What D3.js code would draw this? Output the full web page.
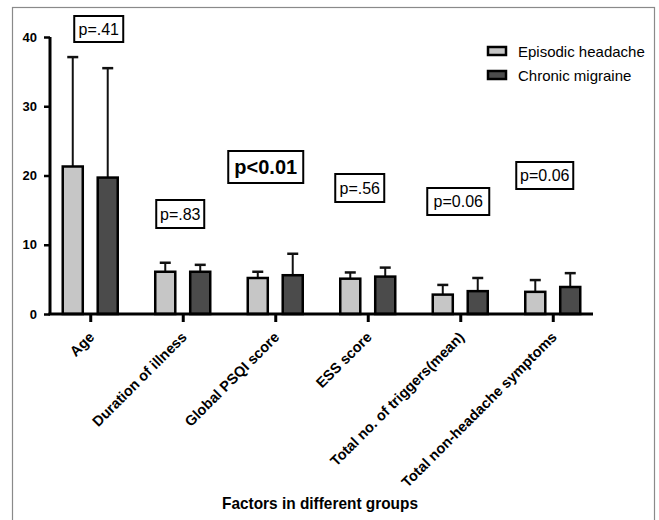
<!DOCTYPE html>
<html>
<head>
<meta charset="utf-8">
<script src="https://cdn.jsdelivr.net/npm/d3@7"></script>
<style>
  html, body { margin: 0; padding: 0; background: #fff; }
  svg { display: block; }
  text { font-family: "Liberation Sans", Arial, sans-serif; fill: #000; }
</style>
</head>
<body>
<div id="chart"></div>
<script>
// ---- data ----
const categories = ["Age", "Duration of illness", "Global PSQI score", "ESS score",
  "Total no. of triggers(mean)", "Total non-headache symptoms"];
const seriesNames = ["Episodic headache", "Chronic migraine"];
const episodicMean = [21.3, 6.1, 5.2, 5.1, 2.8, 3.2];
const episodicSD   = [15.8, 1.3, 0.9, 0.9, 1.4, 1.7];
const chronicMean  = [19.7, 6.1, 5.6, 5.4, 3.3, 3.9];
const chronicSD    = [15.8, 1.0, 3.1, 1.3, 1.9, 2.0];
const pLabels = ["p=.41", "p=.83", "p<0.01", "p=.56", "p=0.06", "p=0.06"];
const yTicks = [0, 10, 20, 30, 40];
const xTitle = "Factors in different groups";

// ---- layout ----
const W = 659, H = 520;
const colors = { "Episodic headache": "#c6c6c6", "Chronic migraine": "#4b4b4b" };

const svg = d3.select("#chart").append("svg").attr("width", W).attr("height", H);

// outer frame
svg.append("rect").attr("x", 12.5).attr("y", 7.5).attr("width", 642).attr("height", H)
  .attr("fill", "none").attr("stroke", "#8a8a8a").attr("stroke-width", 1.2);

const x = d3.scalePoint().domain(categories).range([50, 593]).padding(0.435);
const xs = d3.scaleBand().domain(seriesNames).range([-28.5, 28.5]).paddingInner(0.37);
const y = d3.scaleLinear().domain([0, 40]).range([314, 37]);

const rows = [];
categories.forEach((c, i) => {
  rows.push({ cat: c, s: seriesNames[0], m: episodicMean[i], sd: episodicSD[i] });
  rows.push({ cat: c, s: seriesNames[1], m: chronicMean[i], sd: chronicSD[i] });
});

// error bars (upper only)
const eb = svg.append("g");
rows.forEach(d => {
  const cx = x(d.cat) + xs(d.s) + xs.bandwidth() / 2;
  eb.append("line").attr("x1", cx).attr("x2", cx)
    .attr("y1", y(d.m)).attr("y2", y(d.m + d.sd))
    .attr("stroke", "#111").attr("stroke-width", 2);
  eb.append("line").attr("x1", cx - 5.5).attr("x2", cx + 5.5)
    .attr("y1", y(d.m + d.sd)).attr("y2", y(d.m + d.sd))
    .attr("stroke", "#111").attr("stroke-width", 2.5);
});

// bars
svg.append("g").selectAll("rect").data(rows).join("rect")
  .attr("x", d => x(d.cat) + xs(d.s) + 1)
  .attr("y", d => y(d.m))
  .attr("width", xs.bandwidth() - 2)
  .attr("height", d => y(0) - y(d.m))
  .attr("fill", d => colors[d.s])
  .attr("stroke", "#000").attr("stroke-width", 2.5);

// y axis
const yAxis = d3.axisLeft(y).tickValues(yTicks).tickSize(6).tickPadding(7);
const gy = svg.append("g").attr("transform", "translate(50,0)").call(yAxis);
gy.select(".domain").attr("d", `M0,${y(0)}V${y(40)}`).attr("stroke", "#000").attr("stroke-width", 3);
gy.selectAll(".tick line").attr("stroke", "#000").attr("stroke-width", 2.5);
gy.selectAll(".tick text").attr("font-size", 13).attr("font-weight", "bold")
  .attr("font-family", "Liberation Sans, Arial, sans-serif").attr("fill", "#000");

// x axis
const xAxis = d3.axisBottom(x).tickSize(8).tickFormat("");
const gx = svg.append("g").attr("transform", `translate(0,${y(0)})`).call(xAxis);
gx.select(".domain").attr("d", "M48.5,0H593").attr("stroke", "#000").attr("stroke-width", 3);
gx.selectAll(".tick line").attr("stroke", "#000").attr("stroke-width", 3);

// x labels rotated
svg.append("g").selectAll("text").data(categories).join("text")
  .attr("transform", d => `translate(${x(d) + 5},${y(0) + 24}) rotate(-45)`)
  .attr("text-anchor", "end")
  .attr("font-size", 14.5).attr("font-weight", "bold")
  .text(d => d);

// x title
svg.append("text").attr("x", 320).attr("y", 509).attr("text-anchor", "middle")
  .attr("font-size", 16.5).attr("font-weight", "bold")
  .attr("textLength", 196).attr("lengthAdjust", "spacingAndGlyphs")
  .text(xTitle);

// p-value boxes (positioned relative to each category)
const pBoxLayout = [
  { dx: 8.5,  cy: 29,    w: 49, h: 26, fs: 16, fw: "normal" },
  { dx: -2.5, cy: 214,   w: 48, h: 28, fs: 16, fw: "normal" },
  { dx: -9.5, cy: 167,   w: 75, h: 32, fs: 20, fw: "bold" },
  { dx: -8,   cy: 188,   w: 49, h: 28, fs: 16, fw: "normal" },
  { dx: -2,   cy: 201.5, w: 62, h: 27, fs: 16, fw: "normal" },
  { dx: -8,   cy: 175.5, w: 57, h: 27, fs: 16, fw: "normal" }
];
const pg = svg.append("g");
pLabels.forEach((t, i) => {
  const L = pBoxLayout[i];
  const cx = x(categories[i]) + L.dx;
  pg.append("rect").attr("x", cx - L.w / 2).attr("y", L.cy - L.h / 2)
    .attr("width", L.w).attr("height", L.h)
    .attr("fill", "#fff").attr("stroke", "#000").attr("stroke-width", 2);
  pg.append("text").attr("x", cx).attr("y", L.cy + L.fs * 0.36)
    .attr("text-anchor", "middle").attr("font-size", L.fs).attr("font-weight", L.fw)
    .text(t);
});

// legend
const lg = svg.append("g").attr("transform", "translate(488,51)");
seriesNames.forEach((s, i) => {
  const g = lg.append("g").attr("transform", `translate(0,${i * 24})`);
  g.append("rect").attr("x", 0).attr("y", -4).attr("width", 18).attr("height", 8)
    .attr("fill", colors[s]).attr("stroke", "#000").attr("stroke-width", 2.5);
  g.append("text").attr("x", 30).attr("y", 5.5).attr("font-size", 15).text(s);
});
</script>
</body>
</html>
